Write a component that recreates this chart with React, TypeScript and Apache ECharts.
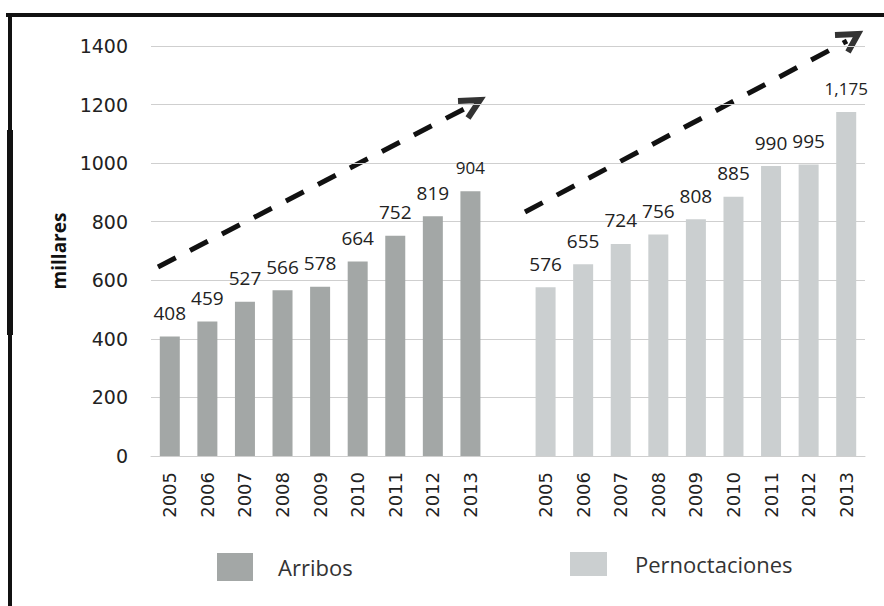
import React, { useEffect, useRef } from "react";
import * as echarts from "echarts";

const years = ["2005", "2006", "2007", "2008", "2009", "2010", "2011", "2012", "2013"];
const arribos = [408, 459, 527, 566, 578, 664, 752, 819, 904];
const pernoctaciones = [576, 655, 724, 756, 808, 885, 990, 995, 1175];
const yTicks = { min: 0, max: 1400, interval: 200 };
const seriesNames = ["Arribos", "Pernoctaciones"];

const categories = [...years, "", ...years];

export default function App() {
  const ref = useRef<HTMLDivElement>(null);
  useEffect(() => {
    if (!ref.current) return;
    const chart = echarts.init(ref.current, null, { renderer: "svg" });
    const blanks = years.map(() => null);
    const smallIdx = (arr: number[], i: number) => i === arr.length - 1;
    const mk = (arr: number[]) =>
      arr.map((v, i) =>
        smallIdx(arr, i) ? { value: v, label: { fontSize: 17, distance: 15 } } : v
      );
    const arrData = [...mk(arribos), null, ...blanks];
    const perData = [...blanks, null, ...mk(pernoctaciones)];
    const labelCommon = {
      show: true,
      position: "top",
      distance: 14,
      color: "#222",
      fontFamily: "Open Sans",
      fontSize: 19,
      formatter: (p: any) =>
        p.value == null ? "" : Number(p.value).toLocaleString("en-US"),
    };
    const dash = { stroke: "#111", lineWidth: 5, lineDash: [20, 16], fill: null };
    const head = { stroke: "#333", lineWidth: 6, fill: null, lineJoin: "miter" };
    chart.setOption({
      animation: false,
      backgroundColor: "#fff",
      grid: { left: 151, right: 19, top: 46, bottom: 150, containLabel: false },
      xAxis: {
        type: "category",
        data: categories,
        axisTick: { show: false },
        axisLine: { show: true, lineStyle: { color: "#cfcfcf" } },
        axisLabel: {
          interval: 0,
          rotate: 90,
          margin: 16,
          fontFamily: "DejaVu Sans",
          fontSize: 18,
          color: "#222",
        },
      },
      yAxis: {
        type: "value",
        min: yTicks.min,
        max: yTicks.max,
        interval: yTicks.interval,
        name: "millares",
        nameLocation: "middle",
        nameGap: 82,
        nameTextStyle: {
          fontFamily: "Open Sans",
          fontWeight: "bold",
          fontSize: 19,
          color: "#111",
        },
        axisLine: { show: false },
        axisTick: { show: false },
        splitLine: { lineStyle: { color: "#cfcfcf", width: 1 } },
        axisLabel: {
          margin: 23,
          fontFamily: "DejaVu Sans",
          fontSize: 19,
          color: "#222",
          formatter: (v: number) => String(v),
        },
      },
      legend: [
        {
          data: [seriesNames[0]],
          left: 212,
          top: 548,
          itemWidth: 36,
          itemHeight: 28,
          icon: "rect",
          textStyle: {
            fontFamily: "Open Sans",
            fontSize: 22,
            color: "#333",
            padding: [0, 0, 0, 20],
          },
        },
        {
          data: [seriesNames[1]],
          left: 565,
          top: 547,
          itemWidth: 37,
          itemHeight: 24,
          icon: "rect",
          textStyle: {
            fontFamily: "Open Sans",
            fontSize: 22,
            color: "#333",
            padding: [0, 0, 0, 23],
          },
        },
      ],
      series: [
        {
          name: seriesNames[0],
          type: "bar",
          data: arrData,
          barWidth: 20,
          barGap: "-100%",
          itemStyle: { color: "#a3a7a6" },
          label: labelCommon,
        },
        {
          name: seriesNames[1],
          type: "bar",
          data: perData,
          barWidth: 20,
          barGap: "-100%",
          itemStyle: { color: "#cbcfd0" },
          label: labelCommon,
        },
      ],
      graphic: [
        { type: "line", shape: { x1: 6, y1: 15, x2: 884, y2: 15 }, style: { stroke: "#111", lineWidth: 4 }, silent: true },
        { type: "line", shape: { x1: 10, y1: 13, x2: 10, y2: 606 }, style: { stroke: "#111", lineWidth: 4 }, silent: true },
        { type: "line", shape: { x1: 10, y1: 130, x2: 10, y2: 335 }, style: { stroke: "#111", lineWidth: 6 }, silent: true },
        { type: "line", shape: { x1: 158, y1: 267, x2: 468, y2: 107 }, style: dash, silent: true },
        { type: "polyline", shape: { points: [[458, 101], [480, 100], [468, 118]] }, style: head, silent: true },
        { type: "line", shape: { x1: 525, y1: 212, x2: 847, y2: 41 }, style: dash, silent: true },
        { type: "polyline", shape: { points: [[835, 35], [858, 34], [848, 52]] }, style: head, silent: true },
      ],
    });
    return () => chart.dispose();
  }, []);
  return (
    <div
      ref={ref}
      style={{ position: "fixed", left: 0, top: 0, width: 884, height: 606 }}
    />
  );
}
